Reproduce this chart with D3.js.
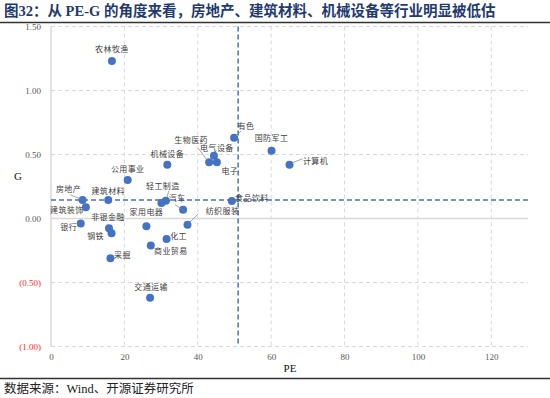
<!DOCTYPE html>
<html><head><meta charset="utf-8">
<script src="https://cdn.jsdelivr.net/npm/d3@7"></script>
<style>
body{margin:0;background:#fff;}
svg{display:block;}
</style></head>
<body><svg id="c" width="550" height="398"></svg>
<script>
// ---- data ----
const industries = ["农林牧渔","有色","国防军工","计算机","生物医药","电气设备","电子","机械设备","公用事业","房地产","建筑材料","建筑装饰","银行","非银金融","钢铁","采掘","家用电器","轻工制造","其他","汽车","纺织服装","化工","商业贸易","交通运输","食品饮料"];
const peValues = [16.6,49.9,60.1,65.0,43.1,44.4,45.2,31.7,20.9,8.6,15.6,9.5,8.1,15.8,16.5,16.2,26.0,31.3,30.1,36.0,37.2,31.5,27.2,27.0,49.3];
const gValues = [1.23,0.63,0.53,0.42,0.44,0.49,0.44,0.42,0.30,0.145,0.145,0.087,-0.04,-0.077,-0.116,-0.31,-0.06,0.139,0.121,0.069,-0.048,-0.16,-0.21,-0.62,0.137];
const peThreshold = 51;
const gThreshold = 0.145;
const xTicks = [0,20,40,60,80,100,120];
const yTicks = [-1,-0.5,0,0.5,1,1.5];
const titleText = "图32：从 PE-G 的角度来看，房地产、建筑材料、机械设备等行业明显被低估";
const sourceText = "数据来源：Wind、开源证券研究所";

// ---- label layout (pixel offsets from point) ----
const labelLayout = {
  "农林牧渔":{dx:0,dy:-12},
  "有色":{dx:12,dy:-12,leader:[2,-2,7,-7]},
  "国防军工":{dx:0,dy:-12},
  "计算机":{dx:26,dy:-4,leader:[3,-2,13,-6]},
  "生物医药":{dx:-18,dy:-22,leader:[-2,-2,-11,-14]},
  "电气设备":{dx:3,dy:-8},
  "电子":{dx:13,dy:9},
  "机械设备":{dx:0,dy:-11},
  "公用事业":{dx:0,dy:-11},
  "房地产":{dx:-14,dy:-11,leader:[-2,-1,-12,-5]},
  "建筑材料":{dx:0,dy:-9},
  "建筑装饰":{dx:-19,dy:3},
  "银行":{dx:-12,dy:4},
  "非银金融":{dx:-1,dy:-11},
  "钢铁":{dx:-16,dy:3},
  "采掘":{dx:12,dy:-3},
  "家用电器":{dx:0,dy:-14},
  "轻工制造":{dx:-3,dy:-15,leader:[1,-3,3,-10]},
  "其他":null,
  "汽车":{dx:-6,dy:-11,leader:[-2,-1,-8,-5]},
  "纺织服装":{dx:35,dy:-13,leader:[2,-2,11,-11]},
  "化工":{dx:12,dy:-3},
  "商业贸易":{dx:20,dy:6},
  "交通运输":{dx:1,dy:-11},
  "食品饮料":{dx:20,dy:-3}
};

const svg = d3.select("#c");
const W = 550, H = 398;
const x = d3.scaleLinear().domain([0,130]).range([51,528]);
const y = d3.scaleLinear().domain([-1,1.5]).range([346.5,26.5]);

const grid = "#d9d9d9";
const serif = "'Liberation Serif','DejaVu Serif',serif";
const cjk = "'Noto Sans CJK SC','Noto Sans',sans-serif";

// title
svg.append("text").attr("x",4).attr("y",16).attr("font-family",serif+","+cjk)
  .attr("font-size",14.5).attr("font-weight","bold").attr("fill","#1f3a70").text(titleText);
svg.append("line").attr("x1",0).attr("x2",W).attr("y1",22.5).attr("y2",22.5).attr("stroke","#333").attr("stroke-width",1.5);
svg.append("line").attr("x1",0).attr("x2",W).attr("y1",378.5).attr("y2",378.5).attr("stroke","#333").attr("stroke-width",1.5);
svg.append("text").attr("x",4).attr("y",393).attr("font-family",serif+","+cjk)
  .attr("font-size",12.5).attr("fill","#222").text(sourceText);

// grid
const g = svg.append("g");
g.selectAll(".hg").data(yTicks.filter(d=>d!==0)).join("line")
  .attr("x1",x(0)).attr("x2",x(130)).attr("y1",d=>y(d)).attr("y2",d=>y(d))
  .attr("stroke",grid).attr("stroke-dasharray","4,3").attr("stroke-width",1);
g.selectAll(".vg").data(xTicks.filter(d=>d!==0)).join("line")
  .attr("x1",d=>x(d)).attr("x2",d=>x(d)).attr("y1",y(1.5)).attr("y2",y(-1))
  .attr("stroke",grid).attr("stroke-dasharray","4,3").attr("stroke-width",1);
g.append("line").attr("x1",x(0)).attr("x2",x(130)).attr("y1",y(0)).attr("y2",y(0)).attr("stroke",grid).attr("stroke-width",1.5);
g.append("line").attr("x1",x(0)).attr("x2",x(0)).attr("y1",y(1.5)).attr("y2",y(-1)).attr("stroke",grid).attr("stroke-width",1.5);

// axes labels via d3 axes
const fmt = d => d < 0 ? "(" + d3.format(".2f")(-d) + ")" : d3.format(".2f")(d);
const yAxis = svg.append("g").attr("transform",`translate(${x(0)-6},0)`)
  .call(d3.axisLeft(y).tickValues(yTicks).tickFormat(fmt).tickSize(0));
yAxis.select(".domain").remove();
yAxis.selectAll("text").attr("font-family",serif).attr("font-size",9)
  .attr("fill",d=>d<0?"#ff2a2a":"#595959").attr("dx",-1);
const xAxis = svg.append("g").attr("transform",`translate(0,${y(-1)+4})`)
  .call(d3.axisBottom(x).tickValues(xTicks).tickFormat(d3.format("d")).tickSize(0));
xAxis.select(".domain").remove();
xAxis.selectAll("text").attr("font-family",serif).attr("font-size",9).attr("fill","#595959");

svg.append("text").attr("x",290).attr("y",372).attr("text-anchor","middle")
  .attr("font-family",serif).attr("font-size",11).attr("fill","#111").text("PE");
svg.append("text").attr("x",18).attr("y",180).attr("text-anchor","middle")
  .attr("font-family",serif).attr("font-size",11).attr("fill","#111").text("G");

// threshold lines
const blue = "#4472c4";
svg.append("line").attr("x1",x(0)).attr("x2",x(130)).attr("y1",y(gThreshold)).attr("y2",y(gThreshold))
  .attr("stroke",blue).attr("stroke-width",1.5).attr("stroke-dasharray","5,3");
svg.append("line").attr("x1",x(peThreshold)).attr("x2",x(peThreshold)).attr("y1",y(1.5)).attr("y2",y(-1))
  .attr("stroke",blue).attr("stroke-width",1.5).attr("stroke-dasharray","5,3");

// points
const pts = industries.map((n,i)=>({name:n,pe:peValues[i],g:gValues[i]}));
const lab = svg.append("g");
pts.forEach(p=>{
  const L = labelLayout[p.name];
  if(!L) return;
  const px = x(p.pe), py = y(p.g);
  if(L.leader){
    lab.append("line").attr("x1",px+L.leader[0]).attr("y1",py+L.leader[1])
      .attr("x2",px+L.leader[2]).attr("y2",py+L.leader[3]).attr("stroke","#8c8c8c").attr("stroke-width",0.8);
  }
});
svg.append("g").selectAll("circle").data(pts).join("circle")
  .attr("cx",d=>x(d.pe)).attr("cy",d=>y(d.g)).attr("r",4).attr("fill",blue);
pts.forEach(p=>{
  const L = labelLayout[p.name];
  if(!L) return;
  lab.append("text").attr("x",x(p.pe)+L.dx).attr("y",y(p.g)+L.dy).attr("dy","0.35em")
    .attr("text-anchor","middle").attr("font-family",cjk).attr("font-size",8)
    .attr("letter-spacing",0.4).attr("fill","#404040").text(p.name);
});
lab.raise();
</script></body></html>
